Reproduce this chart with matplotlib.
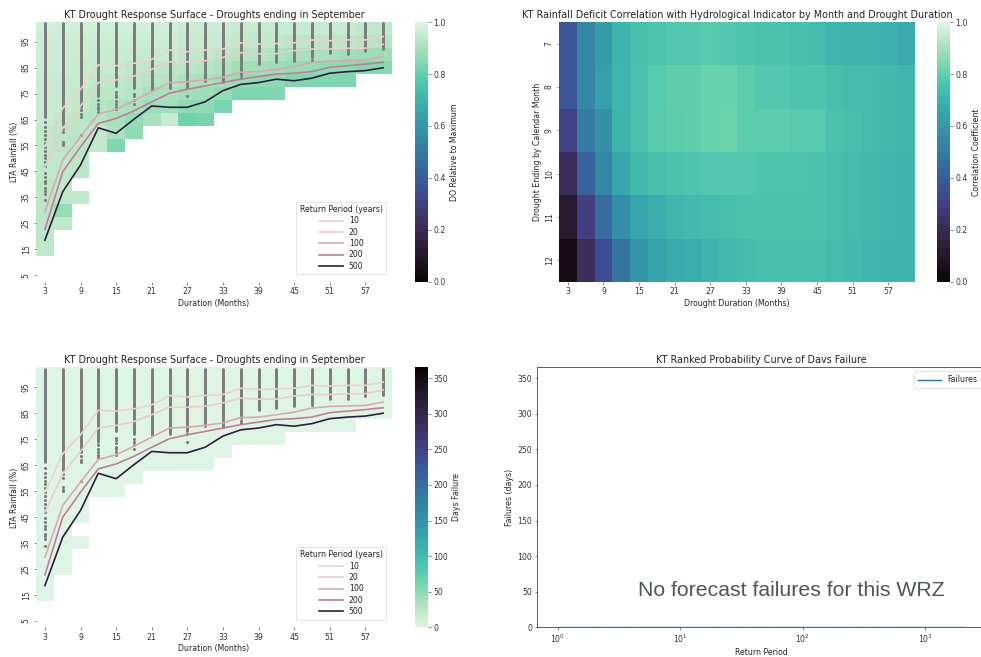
import numpy as np
import matplotlib
matplotlib.use("Agg")
import matplotlib.pyplot as plt
import seaborn as sns

plt.rcParams["font.family"] = ["DejaVu Sans"]
plt.rcParams["font.size"] = 5.6
plt.rcParams["xtick.major.size"] = 1.8
plt.rcParams["ytick.major.size"] = 1.8
plt.rcParams["xtick.major.width"] = 0.4
plt.rcParams["ytick.major.width"] = 0.4
plt.rcParams["xtick.major.pad"] = 2
plt.rcParams["ytick.major.pad"] = 2
plt.rcParams["xtick.color"] = "#333333"
plt.rcParams["ytick.color"] = "#333333"
plt.rcParams["text.color"] = "#222222"
plt.rcParams["axes.labelcolor"] = "#222222"

# ---------------- data ----------------
durations = list(range(3, 61, 3))
lta_rows = list(range(5, 101, 5))
months = [7, 8, 9, 10, 11, 12]
return_periods = [10, 20, 100, 200, 500]

# lowest LTA band that has any simulated droughts, per duration
do_floor = [15, 25, 35, 55, 55, 60, 65, 65, 65, 65, 70, 75, 75, 75, 80, 80, 80, 80, 85, 85]
# DO relative to maximum, from the floor band up to 100 %
do_cols = [
    [0.94, 0.93, 0.93, 0.93, 0.93, 0.93, 0.94, 0.94, 0.94, 0.94, 0.95, 0.95, 0.95, 0.95, 0.96, 0.96, 0.96, 0.97],
    [0.94, 0.87, 0.94, 0.94, 0.94, 0.94, 0.93, 0.93, 0.94, 0.95, 0.95, 0.95, 0.96, 0.96, 0.96, 0.97],
    [0.94, np.nan, 0.93, 0.93, 0.93, 0.93, 0.93, 0.94, 0.94, 0.95, 0.95, 0.96, 0.96, 0.97],
    [0.94, 0.94, 0.92, 0.92, 0.93, 0.94, 0.95, 0.95, 0.96, 0.97],
    [0.84, 0.90, 0.90, 0.91, 0.93, 0.94, 0.95, 0.95, 0.96, 0.97],
    [0.86, 0.87, 0.90, 0.92, 0.93, 0.94, 0.95, 0.96, 0.97],
    [0.90, 0.88, 0.90, 0.92, 0.94, 0.95, 0.96, 0.97],
    [0.95, 0.89, 0.90, 0.92, 0.93, 0.95, 0.96, 0.97],
    [0.82, 0.86, 0.89, 0.91, 0.93, 0.94, 0.95, 0.96],
    [0.83, 0.86, 0.88, 0.90, 0.92, 0.94, 0.95, 0.96],
    [0.83, 0.87, 0.89, 0.91, 0.93, 0.95, 0.96],
    [0.84, 0.87, 0.89, 0.92, 0.94, 0.95],
    [0.84, 0.86, 0.89, 0.92, 0.94, 0.95],
    [0.84, 0.86, 0.88, 0.91, 0.94, 0.95],
    [0.84, 0.87, 0.90, 0.93, 0.95],
    [0.84, 0.87, 0.90, 0.93, 0.95],
    [0.84, 0.86, 0.90, 0.93, 0.95],
    [0.84, 0.86, 0.89, 0.93, 0.95],
    [0.85, 0.88, 0.92, 0.94],
    [0.85, 0.88, 0.92, 0.94],
]
# no failure days anywhere on the surface
fail_value = 0.0

# rainfall (% LTA) for each return period line
rp10 = [54.5, 69.3, 76.6, 86.0, 85.7, 86.6, 88.1, 91.7, 91.1, 91.7, 92.1, 94.5, 94.0, 94.2, 94.5, 95.6, 95.3, 95.6, 95.6, 96.9]
rp20 = [46.8, 61.6, 70.2, 79.2, 80.2, 81.7, 84.3, 87.2, 87.2, 87.6, 88.9, 90.7, 90.3, 90.3, 91.5, 92.1, 92.1, 92.4, 92.4, 93.9]
rp100 = [29.5, 49.4, 58.4, 67.1, 68.9, 72.2, 75.7, 79.2, 79.5, 80.2, 81.2, 83.2, 83.4, 84.3, 85.3, 86.9, 87.5, 87.7, 87.9, 89.2]
rp200 = [22.7, 44.9, 54.5, 63.5, 65.4, 68.3, 71.8, 75.1, 76.6, 77.9, 79.2, 80.5, 81.5, 82.5, 82.8, 83.4, 85.1, 85.7, 86.3, 87.0]
rp500 = [18.6, 37.2, 47.5, 61.8, 59.7, 65.1, 70.2, 69.7, 69.7, 71.8, 76.1, 78.5, 79.2, 80.5, 79.9, 80.9, 82.8, 83.4, 83.8, 84.9]

# simulated droughts: dense band from the top down to strip_low, plus isolated events
strip_top = 102.0
strip_low = [66, 63, 70, 74, 78, 77, 76.5, 77, 78, 80, 79.5, 83, 86.3, 87, 87.5, 89, 90.5, 90.3, 91.5, 92]
tail_dur = [3] * 20 + [6] * 5 + [9] * 4 + [12] * 5 + [15] * 7 + [18] * 4 + [27, 27, 36, 36, 48]
tail_lta = [64, 62, 60.5, 59, 57.5, 56, 54.5, 53, 51.5, 50, 48.5, 47, 44.5, 43, 41.5, 40.5, 38.5, 37.5, 36.5, 34,
            61.5, 60, 56.5, 55.5, 55,
            68.5, 67, 66, 59,
            72.5, 71, 70, 69, 68,
            75.5, 74.5, 73.5, 72, 71, 70, 69,
            75, 74, 72.5, 71,
            77, 74, 82, 81, 88]

# correlation of rainfall deficit with hydrological indicator (rows = end month)
corr = [
    [0.38, 0.55, 0.62, 0.70, 0.74, 0.76, 0.77, 0.77, 0.78, 0.77, 0.76, 0.75, 0.75, 0.74, 0.73, 0.71, 0.70, 0.70, 0.69, 0.67],
    [0.38, 0.55, 0.63, 0.71, 0.75, 0.78, 0.80, 0.80, 0.81, 0.81, 0.79, 0.77, 0.77, 0.76, 0.76, 0.74, 0.73, 0.73, 0.72, 0.71],
    [0.31, 0.50, 0.58, 0.70, 0.75, 0.78, 0.79, 0.80, 0.81, 0.82, 0.79, 0.79, 0.79, 0.78, 0.78, 0.75, 0.74, 0.73, 0.72, 0.71],
    [0.22, 0.42, 0.55, 0.65, 0.72, 0.74, 0.75, 0.76, 0.77, 0.77, 0.77, 0.76, 0.76, 0.76, 0.75, 0.74, 0.73, 0.72, 0.71, 0.70],
    [0.12, 0.30, 0.45, 0.57, 0.65, 0.68, 0.71, 0.72, 0.73, 0.74, 0.75, 0.75, 0.75, 0.75, 0.75, 0.74, 0.73, 0.72, 0.71, 0.70],
    [0.05, 0.22, 0.35, 0.48, 0.60, 0.64, 0.67, 0.68, 0.70, 0.72, 0.73, 0.74, 0.74, 0.74, 0.74, 0.73, 0.72, 0.71, 0.70, 0.70],
]

# failure curve (nothing fails)
rank_return_period = [1.0, 2100.0]
rank_failures = [0, 0]

# ---------------- grids ----------------
do_grid = np.full((len(lta_rows), len(durations)), np.nan)
for j, (floor, vals) in enumerate(zip(do_floor, do_cols)):
    i0 = lta_rows.index(floor)
    do_grid[i0:i0 + len(vals), j] = vals
fail_grid = np.where(np.isnan(do_grid), np.nan, fail_value)

x_edges = np.arange(1.5, 62, 3)
y_edges = np.arange(2.5, 103, 5)

mako = sns.color_palette("mako", as_cmap=True)
mako_r = sns.color_palette("mako_r", as_cmap=True)
rp_cmap = sns.cubehelix_palette(as_cmap=True)
rp_norm = plt.Normalize(min(return_periods), max(return_periods))
rp_lines = [rp10, rp20, rp100, rp200, rp500]

fig = plt.figure(figsize=(9.81, 6.57), dpi=100)
TITLE_FS = 6.9


def surface(ax, cax, grid, cmap, vmax, cbar_label, cbar_ticks):
    mesh = ax.pcolormesh(x_edges, y_edges, np.ma.masked_invalid(grid), cmap=cmap,
                         vmin=0, vmax=vmax, linewidth=0, rasterized=True)
    # drought events
    for d, lo in zip(durations, strip_low):
        ax.plot([d, d], [lo, strip_top], color="#7b7b7b", lw=2.1, solid_capstyle="round", zorder=3)
    ax.scatter(tail_dur, tail_lta, s=5, color="#7b7b7b", linewidths=0, zorder=3)
    for rp, vals in zip(return_periods, rp_lines):
        ax.plot(durations, vals, color=rp_cmap(rp_norm(rp)), lw=1.2, label=str(rp), zorder=4)
    ax.set_xlim(1.5, 61.5)
    ax.set_ylim(2.5, 102.5)
    ax.set_xticks(durations[::2])
    ax.set_yticks(lta_rows[::2])
    ax.set_yticklabels([str(v) for v in lta_rows[::2]], rotation=90, va="center")
    for s in ax.spines.values():
        s.set_visible(False)
    ax.set_title("KT Drought Response Surface - Droughts ending in September", fontsize=TITLE_FS, pad=3)
    ax.set_xlabel("Duration (Months)", labelpad=2)
    ax.set_ylabel("LTA Rainfall (%)", labelpad=2)
    leg = ax.legend(title="Return Period (years)", loc="lower right", fontsize=5.6, title_fontsize=5.6,
                    frameon=True, handlelength=3, borderpad=0.45, labelspacing=0.3,
                    bbox_to_anchor=(0.995, 0.015))
    leg.get_frame().set_linewidth(0.5)
    leg.get_frame().set_edgecolor("#d0d0d0")
    cb = fig.colorbar(mesh, cax=cax, ticks=cbar_ticks)
    cb.outline.set_visible(False)
    cb.set_label(cbar_label, labelpad=3)
    cax.tick_params(length=1.8, width=0.4, pad=2)


ax1 = fig.add_axes([0.0367, 0.5708, 0.3629, 0.3957])
cax1 = fig.add_axes([0.423, 0.5708, 0.0133, 0.3957])
surface(ax1, cax1, do_grid, mako, 1.0, "DO Relative to Maximum", [0, 0.2, 0.4, 0.6, 0.8, 1.0])
cax1.set_yticklabels(["0.0", "0.2", "0.4", "0.6", "0.8", "1.0"])

ax3 = fig.add_axes([0.0367, 0.045, 0.3629, 0.3957])
cax3 = fig.add_axes([0.423, 0.045, 0.0133, 0.3957])
surface(ax3, cax3, fail_grid, mako_r, 365, "Days Failure", [0, 50, 100, 150, 200, 250, 300, 350])

# correlation heatmap
ax2 = fig.add_axes([0.5698, 0.5708, 0.3629, 0.3957])
cax2 = fig.add_axes([0.955, 0.5708, 0.0133, 0.3957])
m_edges = np.arange(6.5, 13, 1)
mesh2 = ax2.pcolormesh(x_edges, m_edges, np.array(corr), cmap=mako, vmin=0, vmax=1,
                       linewidth=0, rasterized=True)
ax2.set_xlim(1.5, 61.5)
ax2.set_ylim(12.5, 6.5)
ax2.set_xticks(durations[::2])
ax2.set_yticks(months)
ax2.set_yticklabels([str(m) for m in months], rotation=90, va="center")
for s in ax2.spines.values():
    s.set_visible(False)
ax2.set_title("KT Rainfall Deficit Correlation with Hydrological Indicator by Month and Drought Duration",
              fontsize=TITLE_FS, pad=3)
ax2.set_xlabel("Drought Duration (Months)", labelpad=2)
ax2.set_ylabel("Drought Ending by Calendar Month", labelpad=2)
cb2 = fig.colorbar(mesh2, cax=cax2, ticks=[0, 0.2, 0.4, 0.6, 0.8, 1.0])
cb2.outline.set_visible(False)
cb2.set_label("Correlation Coefficient", labelpad=3)
cax2.set_yticklabels(["0.0", "0.2", "0.4", "0.6", "0.8", "1.0"])
cax2.tick_params(length=1.8, width=0.4, pad=2)

# ranked probability curve
ax4 = fig.add_axes([0.5477, 0.045, 0.4567, 0.3957])
ax4.plot(rank_return_period, rank_failures, color="#1f77b4", lw=1.0, label="Failures")
ax4.set_xscale("log")
ax4.set_xlim(10 ** -0.166, 10 ** 3.49)
ax4.set_ylim(0, 365)
ax4.set_yticks([0, 50, 100, 150, 200, 250, 300, 350])
ax4.tick_params(which="minor", length=1.0, width=0.3)
for s in ax4.spines.values():
    s.set_linewidth(0.6)
    s.set_color("#444444")
ax4.set_title("KT Ranked Probability Curve of Davs Failure", fontsize=TITLE_FS, pad=3)
ax4.set_xlabel("Return Period", labelpad=2)
ax4.set_ylabel("Failures (days)", labelpad=2)
leg4 = ax4.legend(loc="upper right", fontsize=5.6, handlelength=3, borderpad=0.5)
leg4.get_frame().set_linewidth(0.5)
ax4.text(4.5, 44, "No forecast failures for this WRZ", fontsize=15.3,
         family=["Liberation Sans", "DejaVu Sans"], color="#4f555c")

fig.savefig("out.png", dpi=100)
